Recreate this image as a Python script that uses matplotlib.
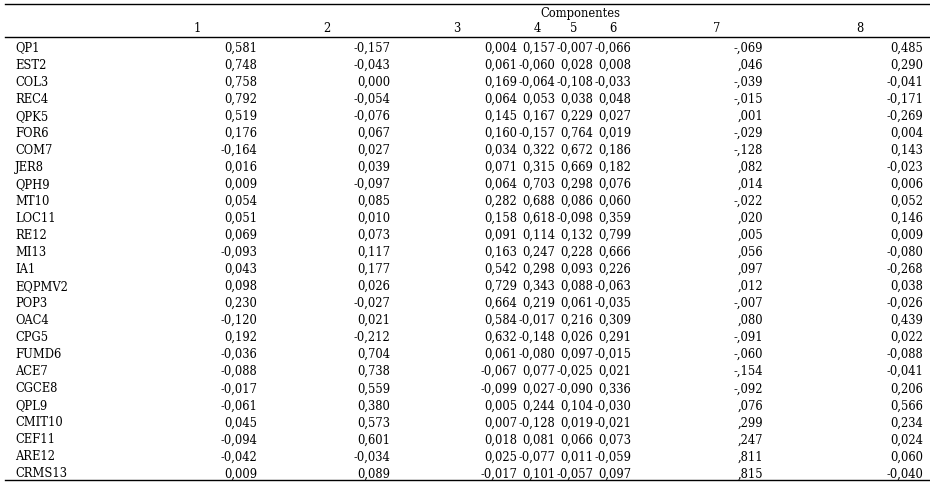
import matplotlib
matplotlib.use("Agg")
import matplotlib.pyplot as plt

rows = ["QP1","EST2","COL3","REC4","QPK5","FOR6","COM7","JER8","QPH9","MT10","LOC11","RE12","MI13",
        "IA1","EQPMV2","POP3","OAC4","CPG5","FUMD6","ACE7","CGCE8","QPL9","CMIT10","CEF11","ARE12","CRMS13"]
c1 = ["0,581","0,748","0,758","0,792","0,519","0,176","-0,164","0,016","0,009","0,054","0,051","0,069","-0,093",
      "0,043","0,098","0,230","-0,120","0,192","-0,036","-0,088","-0,017","-0,061","0,045","-0,094","-0,042","0,009"]
c2 = ["-0,157","-0,043","0,000","-0,054","-0,076","0,067","0,027","0,039","-0,097","0,085","0,010","0,073","0,117",
      "0,177","0,026","-0,027","0,021","-0,212","0,704","0,738","0,559","0,380","0,573","0,601","-0,034","0,089"]
c3 = ["0,004","0,061","0,169","0,064","0,145","0,160","0,034","0,071","0,064","0,282","0,158","0,091","0,163",
      "0,542","0,729","0,664","0,584","0,632","0,061","-0,067","-0,099","0,005","0,007","0,018","0,025","-0,017"]
c4 = ["0,157","-0,060","-0,064","0,053","0,167","-0,157","0,322","0,315","0,703","0,688","0,618","0,114","0,247",
      "0,298","0,343","0,219","-0,017","-0,148","-0,080","0,077","0,027","0,244","-0,128","0,081","-0,077","0,101"]
c5 = ["-0,007","0,028","-0,108","0,038","0,229","0,764","0,672","0,669","0,298","0,086","-0,098","0,132","0,228",
      "0,093","0,088","0,061","0,216","0,026","0,097","-0,025","-0,090","0,104","0,019","0,066","0,011","-0,057"]
c6 = ["-0,066","0,008","-0,033","0,048","0,027","0,019","0,186","0,182","0,076","0,060","0,359","0,799","0,666",
      "0,226","-0,063","-0,035","0,309","0,291","-0,015","0,021","0,336","-0,030","-0,021","0,073","-0,059","0,097"]
c7 = ["-,069",",046","-,039","-,015",",001","-,029","-,128",",082",",014","-,022",",020",",005",",056",
      ",097",",012","-,007",",080","-,091","-,060","-,154","-,092",",076",",299",",247",",811",",815"]
c8 = ["0,485","0,290","-0,041","-0,171","-0,269","0,004","0,143","-0,023","0,006","0,052","0,146","0,009","-0,080",
      "-0,268","0,038","-0,026","0,439","0,022","-0,088","-0,041","0,206","0,566","0,234","0,024","0,060","-0,040"]
headers = ["1","2","3","4","5","6","7","8"]
title = "Componentes"

W, H = 930, 485
fig = plt.figure(figsize=(W/100, H/100), dpi=100)
fig.patch.set_facecolor("white")
ax = fig.add_axes([0, 0, 1, 1])
ax.set_xlim(0, W); ax.set_ylim(H, 0); ax.axis("off")

fs = 8.3
font = "DejaVu Serif"
cols = [c1, c2, c3, c4, c5, c6, c7, c8]
right = [257, 390, 517, 555, 593, 631, 763, 923]
hx = [197, 327, 457, 537, 574, 613, 717, 860]
y0, dy = 48, (474 - 48) / 25

ax.plot([5, 930], [5, 5], color="black", lw=1)
ax.plot([5, 930], [38, 38], color="black", lw=1)
ax.plot([5, 930], [481, 481], color="black", lw=1)
ax.text(580, 13, title, ha="center", va="center", fontsize=fs, family=font)
for x, h in zip(hx, headers):
    ax.text(x, 29, h, ha="center", va="center", fontsize=fs, family=font)
for i, r in enumerate(rows):
    y = y0 + i * dy
    ax.text(15, y, r, ha="left", va="center", fontsize=fs, family=font)
    for x, c in zip(right, cols):
        ax.text(x, y, c[i], ha="right", va="center", fontsize=fs, family=font)

fig.savefig("out.png", dpi=100)
